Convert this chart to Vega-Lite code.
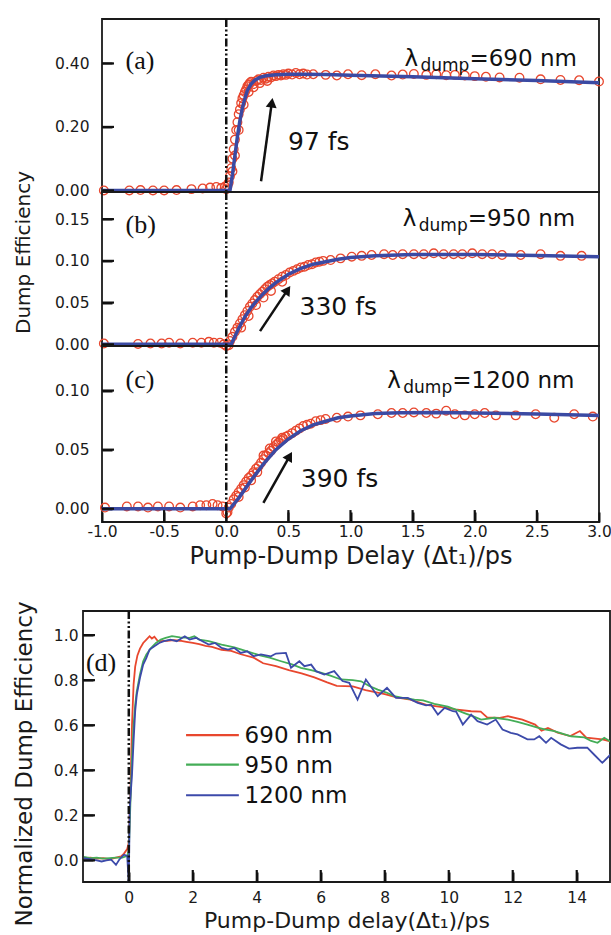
{
  "$schema": "https://vega.github.io/schema/vega-lite/v6.json",
  "autosize": {"type": "pad"},
  "padding": {"left": 12, "top": 16, "right": 0, "bottom": 0},
  "background": "white",
  "config": {
    "view": {"stroke": "#1a1a1a", "strokeWidth": 1.8},
    "axis": {
      "domain": false, "grid": false,
      "labelFont": "DejaVu Sans", "labelFontSize": 15.5, "labelColor": "#1a1a1a",
      "titleFont": "DejaVu Sans", "titleFontWeight": "normal", "titleColor": "#1a1a1a",
      "tickColor": "#111111", "tickWidth": 2, "tickSize": 10, "offset": -10,
      "labelFlush": false, "labelOverlap": false
    },
    "text": {"font": "DejaVu Sans", "color": "#111111"}
  },
  "datasets": {
    "aTicks": [{"v":0},{"v":0.2},{"v":0.4}],
    "bTicks": [{"v":0},{"v":0.05},{"v":0.1},{"v":0.15}],
    "cTicks": [{"v":0},{"v":0.05},{"v":0.1}],
    "cxTicks": [{"t":-0.5},{"t":0},{"t":0.5},{"t":1},{"t":1.5},{"t":2},{"t":2.5}],
    "dTicks": [{"v":0},{"v":0.2},{"v":0.4},{"v":0.6},{"v":0.8},{"v":1.0}],
    "dxTicks": [{"t":0},{"t":2},{"t":4},{"t":6},{"t":8},{"t":10},{"t":12},{"t":14}],
    "aPts": [
      {"t":-0.985,"v":0.0},{"t":-0.78,"v":0.0},{"t":-0.69,"v":0.001},{"t":-0.59,"v":0.0},{"t":-0.5,"v":0.0},{"t":-0.4,"v":0.001},{"t":-0.28,"v":0.004},{"t":-0.19,"v":0.006},{"t":-0.13,"v":0.009},{"t":-0.08,"v":0.011},{"t":-0.04,"v":0.008},{"t":-0.01,"v":0.012},{"t":0.0,"v":0.004},
      {"t":0.01,"v":0.015},{"t":0.02,"v":0.025},{"t":0.03,"v":0.045},{"t":0.04,"v":0.07},{"t":0.05,"v":0.1},{"t":0.05,"v":0.06},{"t":0.06,"v":0.13},{"t":0.07,"v":0.16},{"t":0.07,"v":0.11},{"t":0.08,"v":0.19},{"t":0.09,"v":0.215},{"t":0.1,"v":0.24},{"t":0.1,"v":0.19},{"t":0.11,"v":0.255},{"t":0.12,"v":0.275},{"t":0.13,"v":0.29},{"t":0.14,"v":0.3},{"t":0.14,"v":0.27},{"t":0.15,"v":0.31},{"t":0.16,"v":0.318},{"t":0.17,"v":0.328},{"t":0.18,"v":0.333},{"t":0.18,"v":0.31},{"t":0.19,"v":0.338},{"t":0.2,"v":0.342},{"t":0.22,"v":0.335},{"t":0.22,"v":0.325},{"t":0.24,"v":0.345},{"t":0.26,"v":0.35},{"t":0.27,"v":0.338},{"t":0.28,"v":0.348},{"t":0.3,"v":0.355},{"t":0.32,"v":0.352},{"t":0.33,"v":0.345},{"t":0.34,"v":0.358},{"t":0.36,"v":0.356},{"t":0.38,"v":0.362},{"t":0.4,"v":0.36},{"t":0.42,"v":0.364},{"t":0.44,"v":0.362},{"t":0.46,"v":0.366},{"t":0.48,"v":0.364},{"t":0.5,"v":0.368},{"t":0.53,"v":0.365},{"t":0.56,"v":0.37},{"t":0.59,"v":0.366},{"t":0.62,"v":0.368},{"t":0.65,"v":0.365},
      {"t":0.7,"v":0.366},{"t":0.8,"v":0.364},{"t":0.89,"v":0.362},{"t":0.98,"v":0.366},{"t":1.09,"v":0.363},{"t":1.2,"v":0.366},{"t":1.33,"v":0.362},{"t":1.42,"v":0.365},{"t":1.51,"v":0.367},{"t":1.61,"v":0.364},{"t":1.69,"v":0.366},{"t":1.77,"v":0.363},{"t":1.84,"v":0.364},{"t":1.92,"v":0.362},{"t":2.0,"v":0.36},{"t":2.09,"v":0.358},{"t":2.2,"v":0.356},{"t":2.36,"v":0.355},{"t":2.53,"v":0.35},{"t":2.69,"v":0.348},{"t":2.84,"v":0.347},{"t":3.0,"v":0.343}
    ],
    "aFit": [
      {"t":-1,"v":0},{"t":0,"v":0},{"t":0.03,"v":0},{"t":0.05,"v":0.05},{"t":0.07,"v":0.11},{"t":0.09,"v":0.17},{"t":0.11,"v":0.22},{"t":0.13,"v":0.26},{"t":0.15,"v":0.29},{"t":0.17,"v":0.315},{"t":0.2,"v":0.335},{"t":0.23,"v":0.347},{"t":0.27,"v":0.356},{"t":0.32,"v":0.361},{"t":0.4,"v":0.364},{"t":0.5,"v":0.366},{"t":0.6,"v":0.366},{"t":0.8,"v":0.365},{"t":1.0,"v":0.363},{"t":1.5,"v":0.358},{"t":2.0,"v":0.352},{"t":2.5,"v":0.346},{"t":3.0,"v":0.339}
    ],
    "bPts": [
      {"t":-0.985,"v":0.001},{"t":-0.71,"v":0.0005},{"t":-0.61,"v":0.001},{"t":-0.52,"v":0.001},{"t":-0.46,"v":0.002},{"t":-0.37,"v":0.001},{"t":-0.27,"v":0.002},{"t":-0.2,"v":0.002},{"t":-0.14,"v":0.003},{"t":-0.1,"v":0.002},{"t":-0.05,"v":0.002},{"t":-0.02,"v":0.0},{"t":0.0,"v":-0.002},{"t":0.02,"v":-0.001},
      {"t":0.03,"v":0.004},{"t":0.05,"v":0.009},{"t":0.07,"v":0.015},{"t":0.09,"v":0.02},{"t":0.11,"v":0.025},{"t":0.12,"v":0.02},{"t":0.13,"v":0.03},{"t":0.15,"v":0.035},{"t":0.17,"v":0.04},{"t":0.18,"v":0.034},{"t":0.19,"v":0.045},{"t":0.21,"v":0.049},{"t":0.23,"v":0.053},{"t":0.24,"v":0.047},{"t":0.25,"v":0.057},{"t":0.27,"v":0.06},{"t":0.29,"v":0.063},{"t":0.3,"v":0.056},{"t":0.31,"v":0.066},{"t":0.33,"v":0.069},{"t":0.35,"v":0.071},{"t":0.36,"v":0.064},{"t":0.37,"v":0.073},{"t":0.39,"v":0.075},{"t":0.42,"v":0.078},{"t":0.45,"v":0.081},{"t":0.45,"v":0.075},{"t":0.48,"v":0.083},{"t":0.51,"v":0.086},{"t":0.54,"v":0.088},{"t":0.57,"v":0.09},{"t":0.6,"v":0.092},{"t":0.63,"v":0.093},{"t":0.66,"v":0.095},{"t":0.69,"v":0.096},{"t":0.72,"v":0.098},{"t":0.75,"v":0.099},{"t":0.78,"v":0.1},
      {"t":0.84,"v":0.101},{"t":0.92,"v":0.103},{"t":1.01,"v":0.105},{"t":1.09,"v":0.106},{"t":1.17,"v":0.107},{"t":1.27,"v":0.108},{"t":1.34,"v":0.107},{"t":1.42,"v":0.108},{"t":1.51,"v":0.108},{"t":1.59,"v":0.108},{"t":1.67,"v":0.109},{"t":1.75,"v":0.108},{"t":1.83,"v":0.108},{"t":1.9,"v":0.108},{"t":1.98,"v":0.109},{"t":2.06,"v":0.108},{"t":2.14,"v":0.108},{"t":2.22,"v":0.107},{"t":2.37,"v":0.107},{"t":2.53,"v":0.108},{"t":2.69,"v":0.106},{"t":2.86,"v":0.106}
    ],
    "bFit": [
      {"t":-1,"v":0},{"t":0.04,"v":0},{"t":0.1,"v":0.019},{"t":0.15,"v":0.033},{"t":0.2,"v":0.044},{"t":0.25,"v":0.053},{"t":0.3,"v":0.061},{"t":0.35,"v":0.068},{"t":0.4,"v":0.074},{"t":0.5,"v":0.084},{"t":0.6,"v":0.091},{"t":0.7,"v":0.096},{"t":0.8,"v":0.099},{"t":0.9,"v":0.102},{"t":1.0,"v":0.104},{"t":1.2,"v":0.106},{"t":1.5,"v":0.1075},{"t":2.0,"v":0.1075},{"t":2.5,"v":0.1065},{"t":3.0,"v":0.105}
    ],
    "cPts": [
      {"t":-0.976,"v":0.001},{"t":-0.8,"v":0.002},{"t":-0.71,"v":0.002},{"t":-0.63,"v":0.001},{"t":-0.55,"v":0.002},{"t":-0.46,"v":0.002},{"t":-0.37,"v":0.001},{"t":-0.27,"v":0.002},{"t":-0.21,"v":0.003},{"t":-0.16,"v":0.003},{"t":-0.11,"v":0.004},{"t":-0.07,"v":0.003},{"t":-0.03,"v":0.002},{"t":0.0,"v":-0.004},{"t":0.01,"v":-0.003},{"t":0.02,"v":0.001},
      {"t":0.04,"v":0.004},{"t":0.06,"v":0.008},{"t":0.08,"v":0.011},{"t":0.1,"v":0.014},{"t":0.1,"v":0.01},{"t":0.12,"v":0.017},{"t":0.14,"v":0.02},{"t":0.15,"v":0.018},{"t":0.16,"v":0.023},{"t":0.18,"v":0.026},{"t":0.2,"v":0.028},{"t":0.2,"v":0.024},{"t":0.22,"v":0.031},{"t":0.24,"v":0.034},{"t":0.25,"v":0.031},{"t":0.26,"v":0.036},{"t":0.28,"v":0.039},{"t":0.3,"v":0.042},{"t":0.3,"v":0.045},{"t":0.32,"v":0.045},{"t":0.34,"v":0.047},{"t":0.35,"v":0.051},{"t":0.36,"v":0.049},{"t":0.38,"v":0.052},{"t":0.4,"v":0.054},{"t":0.4,"v":0.057},{"t":0.42,"v":0.056},{"t":0.44,"v":0.058},{"t":0.45,"v":0.06},{"t":0.46,"v":0.059},{"t":0.48,"v":0.061},{"t":0.5,"v":0.062},{"t":0.53,"v":0.064},{"t":0.56,"v":0.066},{"t":0.59,"v":0.068},{"t":0.62,"v":0.07},{"t":0.65,"v":0.071},{"t":0.68,"v":0.072},{"t":0.72,"v":0.074},{"t":0.76,"v":0.075},
      {"t":0.8,"v":0.076},{"t":0.89,"v":0.077},{"t":0.98,"v":0.078},{"t":1.08,"v":0.079},{"t":1.22,"v":0.08},{"t":1.33,"v":0.081},{"t":1.42,"v":0.081},{"t":1.51,"v":0.0815},{"t":1.61,"v":0.081},{"t":1.69,"v":0.0805},{"t":1.77,"v":0.083},{"t":1.84,"v":0.08},{"t":1.92,"v":0.079},{"t":2.0,"v":0.08},{"t":2.08,"v":0.081},{"t":2.17,"v":0.079},{"t":2.33,"v":0.079},{"t":2.49,"v":0.08},{"t":2.64,"v":0.077},{"t":2.8,"v":0.08},{"t":2.95,"v":0.078}
    ],
    "cFit": [
      {"t":-1,"v":0},{"t":0.03,"v":0},{"t":0.1,"v":0.009},{"t":0.2,"v":0.024},{"t":0.3,"v":0.038},{"t":0.4,"v":0.05},{"t":0.5,"v":0.059},{"t":0.6,"v":0.066},{"t":0.7,"v":0.071},{"t":0.8,"v":0.074},{"t":0.9,"v":0.077},{"t":1.0,"v":0.0785},{"t":1.2,"v":0.0805},{"t":1.4,"v":0.0812},{"t":1.7,"v":0.0815},{"t":2.0,"v":0.081},{"t":2.5,"v":0.0802},{"t":3.0,"v":0.0788}
    ],
    "dLines": [
      {"s":"690 nm","t":-1.4,"v":0.01},{"s":"690 nm","t":-1.2,"v":0.012},{"s":"690 nm","t":-1.0,"v":0.008},{"s":"690 nm","t":-0.8,"v":0.01},{"s":"690 nm","t":-0.6,"v":0.005},{"s":"690 nm","t":-0.4,"v":0.012},{"s":"690 nm","t":-0.24,"v":0.018},{"s":"690 nm","t":-0.15,"v":0.03},{"s":"690 nm","t":-0.05,"v":0.05},{"s":"690 nm","t":0.0,"v":0.08},{"s":"690 nm","t":0.05,"v":0.3},{"s":"690 nm","t":0.1,"v":0.6},{"s":"690 nm","t":0.15,"v":0.78},{"s":"690 nm","t":0.2,"v":0.86},{"s":"690 nm","t":0.27,"v":0.91},{"s":"690 nm","t":0.35,"v":0.94},{"s":"690 nm","t":0.45,"v":0.965},{"s":"690 nm","t":0.55,"v":0.98},{"s":"690 nm","t":0.65,"v":0.995},{"s":"690 nm","t":0.72,"v":0.985},{"s":"690 nm","t":0.8,"v":0.993},{"s":"690 nm","t":0.9,"v":0.975},{"s":"690 nm","t":1.0,"v":0.973},{"s":"690 nm","t":1.2,"v":0.975},{"s":"690 nm","t":1.4,"v":0.978},{"s":"690 nm","t":1.6,"v":0.975},{"s":"690 nm","t":1.8,"v":0.97},{"s":"690 nm","t":2.0,"v":0.965},{"s":"690 nm","t":2.2,"v":0.96},{"s":"690 nm","t":2.4,"v":0.952},{"s":"690 nm","t":2.6,"v":0.948},{"s":"690 nm","t":2.9,"v":0.935},{"s":"690 nm","t":3.2,"v":0.93},{"s":"690 nm","t":3.5,"v":0.915},{"s":"690 nm","t":3.9,"v":0.9},{"s":"690 nm","t":4.2,"v":0.875},{"s":"690 nm","t":4.6,"v":0.862},{"s":"690 nm","t":5.0,"v":0.845},{"s":"690 nm","t":5.4,"v":0.83},{"s":"690 nm","t":5.8,"v":0.812},{"s":"690 nm","t":6.2,"v":0.79},{"s":"690 nm","t":6.5,"v":0.775},{"s":"690 nm","t":7.0,"v":0.772},{"s":"690 nm","t":7.4,"v":0.756},{"s":"690 nm","t":8.0,"v":0.738},{"s":"690 nm","t":8.4,"v":0.722},{"s":"690 nm","t":8.8,"v":0.714},{"s":"690 nm","t":9.3,"v":0.69},{"s":"690 nm","t":9.8,"v":0.68},{"s":"690 nm","t":10.2,"v":0.67},{"s":"690 nm","t":10.7,"v":0.662},{"s":"690 nm","t":11.0,"v":0.66},{"s":"690 nm","t":11.2,"v":0.635},{"s":"690 nm","t":11.6,"v":0.633},{"s":"690 nm","t":11.85,"v":0.64},{"s":"690 nm","t":12.3,"v":0.625},{"s":"690 nm","t":12.7,"v":0.603},{"s":"690 nm","t":12.9,"v":0.576},{"s":"690 nm","t":13.1,"v":0.588},{"s":"690 nm","t":13.4,"v":0.567},{"s":"690 nm","t":13.8,"v":0.552},{"s":"690 nm","t":14.1,"v":0.574},{"s":"690 nm","t":14.3,"v":0.545},{"s":"690 nm","t":14.8,"v":0.537},{"s":"690 nm","t":15.12,"v":0.526},
      {"s":"950 nm","t":-1.4,"v":0.015},{"s":"950 nm","t":-1.2,"v":0.01},{"s":"950 nm","t":-1.0,"v":0.012},{"s":"950 nm","t":-0.8,"v":0.008},{"s":"950 nm","t":-0.6,"v":0.01},{"s":"950 nm","t":-0.4,"v":0.012},{"s":"950 nm","t":-0.2,"v":0.012},{"s":"950 nm","t":-0.05,"v":0.02},{"s":"950 nm","t":0.0,"v":0.04},{"s":"950 nm","t":0.05,"v":0.25},{"s":"950 nm","t":0.1,"v":0.455},{"s":"950 nm","t":0.15,"v":0.6},{"s":"950 nm","t":0.2,"v":0.69},{"s":"950 nm","t":0.25,"v":0.75},{"s":"950 nm","t":0.35,"v":0.825},{"s":"950 nm","t":0.45,"v":0.884},{"s":"950 nm","t":0.55,"v":0.914},{"s":"950 nm","t":0.7,"v":0.943},{"s":"950 nm","t":0.85,"v":0.965},{"s":"950 nm","t":1.0,"v":0.98},{"s":"950 nm","t":1.15,"v":0.988},{"s":"950 nm","t":1.35,"v":0.995},{"s":"950 nm","t":1.6,"v":0.99},{"s":"950 nm","t":1.9,"v":0.988},{"s":"950 nm","t":2.05,"v":0.995},{"s":"950 nm","t":2.2,"v":0.98},{"s":"950 nm","t":2.5,"v":0.973},{"s":"950 nm","t":2.9,"v":0.958},{"s":"950 nm","t":3.3,"v":0.946},{"s":"950 nm","t":3.7,"v":0.928},{"s":"950 nm","t":4.1,"v":0.91},{"s":"950 nm","t":4.4,"v":0.9},{"s":"950 nm","t":4.76,"v":0.884},{"s":"950 nm","t":5.1,"v":0.87},{"s":"950 nm","t":5.38,"v":0.855},{"s":"950 nm","t":5.7,"v":0.845},{"s":"950 nm","t":6.0,"v":0.833},{"s":"950 nm","t":6.3,"v":0.82},{"s":"950 nm","t":6.63,"v":0.803},{"s":"950 nm","t":7.0,"v":0.8},{"s":"950 nm","t":7.26,"v":0.795},{"s":"950 nm","t":7.5,"v":0.775},{"s":"950 nm","t":7.78,"v":0.758},{"s":"950 nm","t":8.05,"v":0.745},{"s":"950 nm","t":8.3,"v":0.729},{"s":"950 nm","t":8.6,"v":0.72},{"s":"950 nm","t":8.93,"v":0.714},{"s":"950 nm","t":9.2,"v":0.71},{"s":"950 nm","t":9.55,"v":0.695},{"s":"950 nm","t":9.97,"v":0.682},{"s":"950 nm","t":10.2,"v":0.67},{"s":"950 nm","t":10.49,"v":0.654},{"s":"950 nm","t":10.75,"v":0.64},{"s":"950 nm","t":11.01,"v":0.625},{"s":"950 nm","t":11.43,"v":0.633},{"s":"950 nm","t":11.85,"v":0.625},{"s":"950 nm","t":12.15,"v":0.615},{"s":"950 nm","t":12.46,"v":0.603},{"s":"950 nm","t":12.75,"v":0.59},{"s":"950 nm","t":13.0,"v":0.581},{"s":"950 nm","t":13.3,"v":0.574},{"s":"950 nm","t":13.6,"v":0.56},{"s":"950 nm","t":13.82,"v":0.551},{"s":"950 nm","t":14.24,"v":0.546},{"s":"950 nm","t":14.45,"v":0.53},{"s":"950 nm","t":14.65,"v":0.522},{"s":"950 nm","t":14.86,"v":0.544},{"s":"950 nm","t":15.12,"v":0.522},
      {"s":"1200 nm","t":-1.4,"v":0.01},{"s":"1200 nm","t":-1.2,"v":0.005},{"s":"1200 nm","t":-1.0,"v":0.0},{"s":"1200 nm","t":-0.85,"v":-0.005},{"s":"1200 nm","t":-0.7,"v":0.0},{"s":"1200 nm","t":-0.55,"v":0.003},{"s":"1200 nm","t":-0.4,"v":-0.02},{"s":"1200 nm","t":-0.3,"v":0.003},{"s":"1200 nm","t":-0.15,"v":0.025},{"s":"1200 nm","t":-0.05,"v":0.02},{"s":"1200 nm","t":0.0,"v":-0.1},{"s":"1200 nm","t":0.03,"v":0.233},{"s":"1200 nm","t":0.1,"v":0.38},{"s":"1200 nm","t":0.15,"v":0.529},{"s":"1200 nm","t":0.2,"v":0.662},{"s":"1200 nm","t":0.25,"v":0.736},{"s":"1200 nm","t":0.35,"v":0.81},{"s":"1200 nm","t":0.45,"v":0.869},{"s":"1200 nm","t":0.55,"v":0.899},{"s":"1200 nm","t":0.65,"v":0.936},{"s":"1200 nm","t":0.8,"v":0.951},{"s":"1200 nm","t":0.95,"v":0.965},{"s":"1200 nm","t":1.1,"v":0.973},{"s":"1200 nm","t":1.3,"v":0.98},{"s":"1200 nm","t":1.5,"v":0.973},{"s":"1200 nm","t":1.75,"v":0.995},{"s":"1200 nm","t":1.9,"v":0.98},{"s":"1200 nm","t":2.1,"v":0.988},{"s":"1200 nm","t":2.3,"v":0.973},{"s":"1200 nm","t":2.5,"v":0.958},{"s":"1200 nm","t":2.7,"v":0.965},{"s":"1200 nm","t":2.9,"v":0.943},{"s":"1200 nm","t":3.1,"v":0.936},{"s":"1200 nm","t":3.3,"v":0.943},{"s":"1200 nm","t":3.5,"v":0.921},{"s":"1200 nm","t":3.7,"v":0.928},{"s":"1200 nm","t":3.9,"v":0.906},{"s":"1200 nm","t":4.13,"v":0.914},{"s":"1200 nm","t":4.44,"v":0.906},{"s":"1200 nm","t":4.6,"v":0.918},{"s":"1200 nm","t":4.91,"v":0.921},{"s":"1200 nm","t":5.07,"v":0.855},{"s":"1200 nm","t":5.33,"v":0.884},{"s":"1200 nm","t":5.49,"v":0.862},{"s":"1200 nm","t":5.7,"v":0.869},{"s":"1200 nm","t":5.85,"v":0.84},{"s":"1200 nm","t":6.11,"v":0.825},{"s":"1200 nm","t":6.42,"v":0.84},{"s":"1200 nm","t":6.68,"v":0.796},{"s":"1200 nm","t":6.89,"v":0.788},{"s":"1200 nm","t":7.15,"v":0.714},{"s":"1200 nm","t":7.41,"v":0.803},{"s":"1200 nm","t":7.78,"v":0.729},{"s":"1200 nm","t":8.07,"v":0.766},{"s":"1200 nm","t":8.35,"v":0.721},{"s":"1200 nm","t":8.72,"v":0.721},{"s":"1200 nm","t":9.03,"v":0.699},{"s":"1200 nm","t":9.29,"v":0.688},{"s":"1200 nm","t":9.45,"v":0.691},{"s":"1200 nm","t":9.66,"v":0.647},{"s":"1200 nm","t":9.87,"v":0.677},{"s":"1200 nm","t":10.13,"v":0.662},{"s":"1200 nm","t":10.23,"v":0.66},{"s":"1200 nm","t":10.44,"v":0.603},{"s":"1200 nm","t":10.7,"v":0.647},{"s":"1200 nm","t":10.9,"v":0.618},{"s":"1200 nm","t":11.2,"v":0.603},{"s":"1200 nm","t":11.47,"v":0.625},{"s":"1200 nm","t":11.68,"v":0.581},{"s":"1200 nm","t":11.94,"v":0.566},{"s":"1200 nm","t":12.15,"v":0.559},{"s":"1200 nm","t":12.46,"v":0.537},{"s":"1200 nm","t":12.67,"v":0.537},{"s":"1200 nm","t":12.83,"v":0.551},{"s":"1200 nm","t":13.04,"v":0.522},{"s":"1200 nm","t":13.2,"v":0.544},{"s":"1200 nm","t":13.5,"v":0.515},{"s":"1200 nm","t":13.76,"v":0.496},{"s":"1200 nm","t":14.02,"v":0.5},{"s":"1200 nm","t":14.33,"v":0.5},{"s":"1200 nm","t":14.54,"v":0.47},{"s":"1200 nm","t":14.8,"v":0.433},{"s":"1200 nm","t":15.06,"v":0.47}
    ]
  },
  "spacing": 31,
  "vconcat": [
    {
      "spacing": 0,
      "bounds": "flush",
      "hconcat": [
        {"width": 19, "height": 10, "view": {"stroke": null}, "data": {"values": [{}]}, "mark": {"type": "point", "opacity": 0}, "encoding": {}},
        {
          "spacing": 0,
          "bounds": "flush",
          "vconcat": [
            {
              "width": 497, "height": 173,
              "layer": [
                {"data": {"name": "aPts"}, "mark": {"type": "point", "shape": "circle", "filled": false, "color": "#e8472e", "strokeWidth": 1.3, "size": 75, "opacity": 1},
                 "encoding": {
                   "x": {"field": "t", "type": "quantitative", "scale": {"domain": [-1, 3], "nice": false}, "axis": null},
                   "y": {"field": "v", "type": "quantitative", "scale": {"domain": [-0.005, 0.54], "nice": false, "zero": false},
                         "axis": {"values": [0, 0.2, 0.4], "format": ".2f", "title": null, "labelPadding": 13, "minExtent": 58, "maxExtent": 58}}}},
                {"data": {"name": "aFit"}, "mark": {"type": "line", "color": "#3b4aa3", "strokeWidth": 3.5},
                 "encoding": {"x": {"field": "t", "type": "quantitative", "axis": null}, "y": {"field": "v", "type": "quantitative"}}},
                {"data": {"name": "aTicks"}, "mark": {"type": "rule", "color": "#111111", "strokeWidth": 2.2},
                 "encoding": {"x": {"datum": -1, "axis": null}, "x2": {"datum": -0.9036}, "y": {"field": "v", "type": "quantitative"}}},
                {"data": {"values": [{}]}, "mark": {"type": "rule", "color": "#111111", "strokeWidth": 2.5, "strokeDash": [8, 2.5, 2, 2.5, 2, 2.5]},
                 "encoding": {"x": {"datum": 0, "axis": null}}},
                {"data": {"values": [{}]}, "mark": {"type": "rule", "color": "#111111", "strokeWidth": 2.5},
                 "encoding": {"x": {"datum": 0.28, "axis": null}, "y": {"datum": 0.029}, "x2": {"datum": 0.366}, "y2": {"datum": 0.275}}},
                {"data": {"values": [{}]}, "mark": {"type": "point", "shape": "triangle-up", "filled": true, "color": "#111111", "size": 120, "angle": 8, "opacity": 1},
                 "encoding": {"x": {"datum": 0.367, "axis": null}, "y": {"datum": 0.276}}},
                {"data": {"values": [{}]}, "mark": {"type": "text", "font": "Liberation Serif", "fontSize": 26, "align": "left", "baseline": "middle"},
                 "encoding": {"x": {"datum": -0.81, "axis": null}, "y": {"datum": 0.407}, "text": {"value": "(a)"}}},
                {"data": {"values": [{}]}, "mark": {"type": "text", "fontSize": 23, "align": "left", "baseline": "alphabetic"},
                 "encoding": {"x": {"datum": 1.434, "axis": null}, "y": {"datum": 0.391}, "text": {"value": "λ"}}},
                {"data": {"values": [{}]}, "mark": {"type": "text", "fontSize": 17, "align": "left", "baseline": "alphabetic", "dx": 16, "dy": 5},
                 "encoding": {"x": {"datum": 1.434, "axis": null}, "y": {"datum": 0.391}, "text": {"value": "dump"}}},
                {"data": {"values": [{}]}, "mark": {"type": "text", "fontSize": 23, "align": "left", "baseline": "alphabetic", "dx": 65},
                 "encoding": {"x": {"datum": 1.434, "axis": null}, "y": {"datum": 0.391}, "text": {"value": "=690 nm"}}},
                {"data": {"values": [{}]}, "mark": {"type": "text", "fontSize": 25, "align": "left", "baseline": "alphabetic"},
                 "encoding": {"x": {"datum": 0.497, "axis": null}, "y": {"datum": 0.1285}, "text": {"value": "97 fs"}}}
              ]
            },
            {
              "width": 497, "height": 154,
              "layer": [
                {"data": {"name": "bPts"}, "mark": {"type": "point", "shape": "circle", "filled": false, "color": "#e8472e", "strokeWidth": 1.3, "size": 75, "opacity": 1},
                 "encoding": {
                   "x": {"field": "t", "type": "quantitative", "scale": {"domain": [-1, 3], "nice": false}, "axis": null},
                   "y": {"field": "v", "type": "quantitative", "scale": {"domain": [-0.002, 0.1825], "nice": false, "zero": false},
                         "axis": {"values": [0, 0.05, 0.1, 0.15], "format": ".2f", "title": "Dump Efficiency", "titleFontSize": 20, "titlePadding": 21, "titleY": 60, "labelPadding": 13, "minExtent": 58, "maxExtent": 58}}}},
                {"data": {"name": "bFit"}, "mark": {"type": "line", "color": "#3b4aa3", "strokeWidth": 3.5},
                 "encoding": {"x": {"field": "t", "type": "quantitative", "axis": null}, "y": {"field": "v", "type": "quantitative"}}},
                {"data": {"name": "bTicks"}, "mark": {"type": "rule", "color": "#111111", "strokeWidth": 2.2},
                 "encoding": {"x": {"datum": -1, "axis": null}, "x2": {"datum": -0.9036}, "y": {"field": "v", "type": "quantitative"}}},
                {"data": {"values": [{}]}, "mark": {"type": "rule", "color": "#111111", "strokeWidth": 2.5, "strokeDash": [8, 2.5, 2, 2.5, 2, 2.5]},
                 "encoding": {"x": {"datum": 0, "axis": null}}},
                {"data": {"values": [{}]}, "mark": {"type": "rule", "color": "#111111", "strokeWidth": 2.5},
                 "encoding": {"x": {"datum": 0.272, "axis": null}, "y": {"datum": 0.0158}, "x2": {"datum": 0.491}, "y2": {"datum": 0.0646}}},
                {"data": {"values": [{}]}, "mark": {"type": "point", "shape": "triangle-up", "filled": true, "color": "#111111", "size": 120, "angle": 34, "opacity": 1},
                 "encoding": {"x": {"datum": 0.494, "axis": null}, "y": {"datum": 0.0652}}},
                {"data": {"values": [{}]}, "mark": {"type": "text", "font": "Liberation Serif", "fontSize": 26, "align": "left", "baseline": "middle"},
                 "encoding": {"x": {"datum": -0.81, "axis": null}, "y": {"datum": 0.143}, "text": {"value": "(b)"}}},
                {"data": {"values": [{}]}, "mark": {"type": "text", "fontSize": 23, "align": "left", "baseline": "alphabetic"},
                 "encoding": {"x": {"datum": 1.421, "axis": null}, "y": {"datum": 0.1414}, "text": {"value": "λ"}}},
                {"data": {"values": [{}]}, "mark": {"type": "text", "fontSize": 17, "align": "left", "baseline": "alphabetic", "dx": 16, "dy": 5},
                 "encoding": {"x": {"datum": 1.421, "axis": null}, "y": {"datum": 0.1414}, "text": {"value": "dump"}}},
                {"data": {"values": [{}]}, "mark": {"type": "text", "fontSize": 23, "align": "left", "baseline": "alphabetic", "dx": 65},
                 "encoding": {"x": {"datum": 1.421, "axis": null}, "y": {"datum": 0.1414}, "text": {"value": "=950 nm"}}},
                {"data": {"values": [{}]}, "mark": {"type": "text", "fontSize": 25, "align": "left", "baseline": "alphabetic"},
                 "encoding": {"x": {"datum": 0.59, "axis": null}, "y": {"datum": 0.0356}, "text": {"value": "330 fs"}}}
              ]
            },
            {
              "width": 497, "height": 176,
              "layer": [
                {"data": {"name": "cPts"}, "mark": {"type": "point", "shape": "circle", "filled": false, "color": "#e8472e", "strokeWidth": 1.3, "size": 75, "opacity": 1},
                 "encoding": {
                   "x": {"field": "t", "type": "quantitative", "scale": {"domain": [-1, 3], "nice": false},
                         "axis": {"values": [-1, -0.5, 0, 0.5, 1, 1.5, 2, 2.5, 3], "format": ".1f", "labelExpr": "replace(datum.label, '\u2212', '-')", "title": "Pump-Dump Delay (Δt₁)/ps", "titleFontSize": 24, "labelPadding": 2, "minExtent": 28, "maxExtent": 28, "titlePadding": 4}},
                   "y": {"field": "v", "type": "quantitative", "scale": {"domain": [-0.0112, 0.1377], "nice": false, "zero": false},
                         "axis": {"values": [0, 0.05, 0.1], "format": ".2f", "title": null, "labelPadding": 13, "minExtent": 58, "maxExtent": 58}}}},
                {"data": {"name": "cFit"}, "mark": {"type": "line", "color": "#3b4aa3", "strokeWidth": 3.5},
                 "encoding": {"x": {"field": "t", "type": "quantitative"}, "y": {"field": "v", "type": "quantitative"}}},
                {"data": {"name": "cTicks"}, "mark": {"type": "rule", "color": "#111111", "strokeWidth": 2.2},
                 "encoding": {"x": {"datum": -1}, "x2": {"datum": -0.9036}, "y": {"field": "v", "type": "quantitative"}}},
                {"data": {"name": "cxTicks"}, "mark": {"type": "rule", "color": "#111111", "strokeWidth": 2.2},
                 "encoding": {"x": {"field": "t", "type": "quantitative"}, "y": {"datum": -0.0112}, "y2": {"datum": -0.0011}}},
                {"data": {"values": [{}]}, "mark": {"type": "rule", "color": "#111111", "strokeWidth": 2.5, "strokeDash": [8, 2.5, 2, 2.5, 2, 2.5]},
                 "encoding": {"x": {"datum": 0}}},
                {"data": {"values": [{}]}, "mark": {"type": "rule", "color": "#111111", "strokeWidth": 2.5},
                 "encoding": {"x": {"datum": 0.299}, "y": {"datum": 0.005}, "x2": {"datum": 0.506}, "y2": {"datum": 0.0436}}},
                {"data": {"values": [{}]}, "mark": {"type": "point", "shape": "triangle-up", "filled": true, "color": "#111111", "size": 120, "angle": 30, "opacity": 1},
                 "encoding": {"x": {"datum": 0.51}, "y": {"datum": 0.0445}}},
                {"data": {"values": [{}]}, "mark": {"type": "text", "font": "Liberation Serif", "fontSize": 26, "align": "left", "baseline": "middle"},
                 "encoding": {"x": {"datum": -0.81}, "y": {"datum": 0.109}, "text": {"value": "(c)"}}},
                {"data": {"values": [{}]}, "mark": {"type": "text", "fontSize": 23, "align": "left", "baseline": "alphabetic"},
                 "encoding": {"x": {"datum": 1.296}, "y": {"datum": 0.1022}, "text": {"value": "λ"}}},
                {"data": {"values": [{}]}, "mark": {"type": "text", "fontSize": 17, "align": "left", "baseline": "alphabetic", "dx": 16, "dy": 5},
                 "encoding": {"x": {"datum": 1.296}, "y": {"datum": 0.1022}, "text": {"value": "dump"}}},
                {"data": {"values": [{}]}, "mark": {"type": "text", "fontSize": 23, "align": "left", "baseline": "alphabetic", "dx": 65},
                 "encoding": {"x": {"datum": 1.296}, "y": {"datum": 0.1022}, "text": {"value": "=1200 nm"}}},
                {"data": {"values": [{}]}, "mark": {"type": "text", "fontSize": 25, "align": "left", "baseline": "alphabetic"},
                 "encoding": {"x": {"datum": 0.6}, "y": {"datum": 0.0186}, "text": {"value": "390 fs"}}}
              ]
            }
          ]
        }
      ]
    },
    {
      "width": 527, "height": 271,
      "layer": [
        {"data": {"name": "dLines"}, "mark": {"type": "line", "strokeWidth": 1.8, "clip": true},
         "encoding": {
           "x": {"field": "t", "type": "quantitative", "scale": {"domain": [-1.431, 15.04], "nice": false},
                 "axis": {"values": [0, 2, 4, 6, 8, 10, 12, 14], "format": "d", "title": "Pump-Dump delay(Δt₁)/ps", "titleFontSize": 22, "labelPadding": 8, "minExtent": 36, "maxExtent": 36, "titlePadding": 2}},
           "y": {"field": "v", "type": "quantitative", "scale": {"domain": [-0.096, 1.107], "nice": false, "zero": false},
                 "axis": {"values": [0, 0.2, 0.4, 0.6, 0.8, 1.0], "format": ".1f", "title": "Normalized Dump Efficiency", "titleFontSize": 23, "titlePadding": 17, "titleY": 152.5, "labelPadding": 5, "minExtent": 40, "maxExtent": 40}},
           "color": {"field": "s", "type": "nominal", "scale": {"domain": ["690 nm", "950 nm", "1200 nm"], "range": ["#e8472e", "#44ad57", "#3c4aaa"]}, "legend": null}
         }},
        {"data": {"name": "dTicks"}, "mark": {"type": "rule", "color": "#111111", "strokeWidth": 2.2},
         "encoding": {"x": {"datum": -1.431}, "x2": {"datum": -1.056}, "y": {"field": "v", "type": "quantitative"}}},
        {"data": {"name": "dxTicks"}, "mark": {"type": "rule", "color": "#111111", "strokeWidth": 2.2},
         "encoding": {"x": {"field": "t", "type": "quantitative"}, "y": {"datum": -0.096}, "y2": {"datum": -0.0427}}},
        {"data": {"values": [{}]}, "mark": {"type": "rule", "color": "#111111", "strokeWidth": 2.5, "strokeDash": [8, 2.5, 2, 2.5, 2, 2.5]},
         "encoding": {"x": {"datum": 0}}},
        {"data": {"values": [{}]}, "mark": {"type": "text", "font": "Liberation Serif", "fontSize": 26, "align": "left", "baseline": "middle"},
         "encoding": {"x": {"datum": -1.34}, "y": {"datum": 0.877}, "text": {"value": "(d)"}}},
        {"data": {"values": [{}]}, "mark": {"type": "rule", "color": "#e8472e", "strokeWidth": 2.2},
         "encoding": {"x": {"datum": 1.79}, "x2": {"datum": 3.44}, "y": {"datum": 0.556}}},
        {"data": {"values": [{}]}, "mark": {"type": "rule", "color": "#44ad57", "strokeWidth": 2.2},
         "encoding": {"x": {"datum": 1.79}, "x2": {"datum": 3.44}, "y": {"datum": 0.425}}},
        {"data": {"values": [{}]}, "mark": {"type": "rule", "color": "#3c4aaa", "strokeWidth": 2.2},
         "encoding": {"x": {"datum": 1.79}, "x2": {"datum": 3.44}, "y": {"datum": 0.289}}},
        {"data": {"values": [{}]}, "mark": {"type": "text", "fontSize": 23, "align": "left", "baseline": "middle"},
         "encoding": {"x": {"datum": 3.62}, "y": {"datum": 0.552}, "text": {"value": "690 nm"}}},
        {"data": {"values": [{}]}, "mark": {"type": "text", "fontSize": 23, "align": "left", "baseline": "middle"},
         "encoding": {"x": {"datum": 3.62}, "y": {"datum": 0.421}, "text": {"value": "950 nm"}}},
        {"data": {"values": [{}]}, "mark": {"type": "text", "fontSize": 23, "align": "left", "baseline": "middle"},
         "encoding": {"x": {"datum": 3.62}, "y": {"datum": 0.285}, "text": {"value": "1200 nm"}}}
      ]
    }
  ]
}
